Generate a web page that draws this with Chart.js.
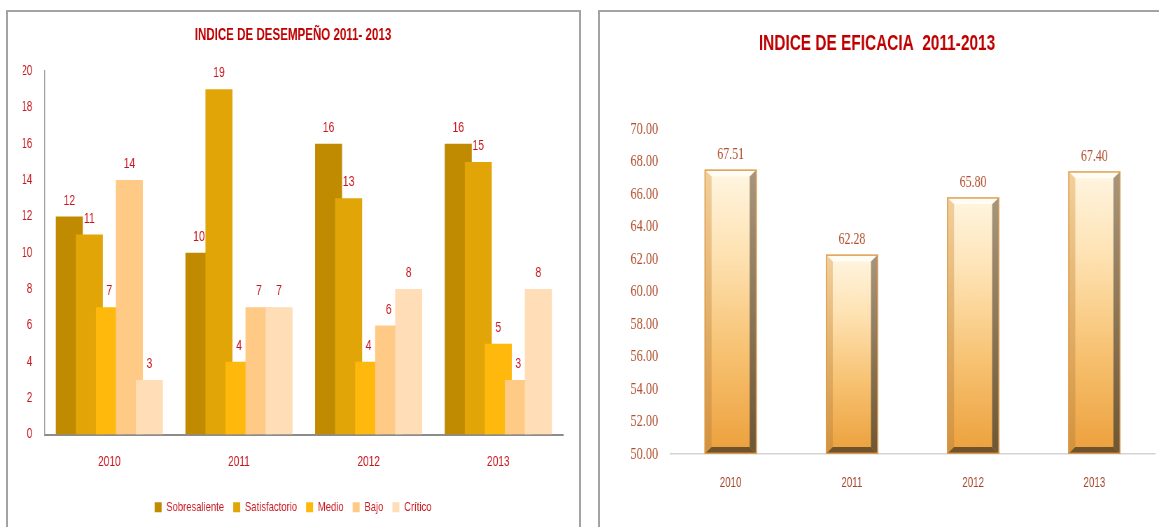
<!DOCTYPE html>
<html>
<head>
<meta charset="utf-8">
<script src="https://cdn.jsdelivr.net/npm/chart.js@4.4.1/dist/chart.umd.min.js"></script>
<style>
  html, body { margin:0; padding:0; background:#fff; width:1159px; height:527px; overflow:hidden; }
  .panel { position:absolute; border:2px solid #A3A3A3; box-sizing:border-box; }
  canvas { position:absolute; }
</style>
</head>
<body>
<div class="panel" style="left:6px; top:10px; width:575px; height:600px;"></div>
<div class="panel" style="left:598px; top:10px; width:600px; height:600px;"></div>
<canvas id="c1" style="left:7px; top:11px; width:572px; height:516px;"></canvas>
<canvas id="c2" style="left:599px; top:11px; width:560px; height:516px;"></canvas>
<script>
// ---------- data ----------
const categories = ['2010', '2011', '2012', '2013'];
const seriesNames = ['Sobresaliente', 'Satisfactorio', 'Medio', 'Bajo', 'Crítico'];
const sobresaliente = [12, 10, 16, 16];
const satisfactorio = [11, 19, 13, 15];
const medio = [7, 4, 4, 5];
const bajo = [14, 7, 6, 3];
const critico = [3, 7, 8, 8];
const desempenoTicks = [0, 2, 4, 6, 8, 10, 12, 14, 16, 18, 20];
const eficacia = [67.51, 62.28, 65.80, 67.40];
const eficaciaTicks = [50, 52, 54, 56, 58, 60, 62, 64, 66, 68, 70];
const title1 = 'INDICE DE DESEMPEÑO 2011- 2013';
const title2 = 'INDICE DE EFICACIA  2011-2013';

// ---------- styles ----------
const SX = 0.7; // the original picture is horizontally condensed
const SANS = "'Liberation Sans', Arial, sans-serif";
const SERIF = "'Liberation Serif', 'Times New Roman', serif";
const RED = '#C8161E';
const TITLE_RED = '#C00000';
const BROWN = '#B0502E';
const seriesColors = ['#C08B00', '#E1A508', '#FFB80C', '#FFCA86', '#FFDDB6'];

const c1 = document.getElementById('c1');
c1.width = Math.round(572 / SX); c1.height = 516;
const c2 = document.getElementById('c2');
c2.width = Math.round(560 / SX); c2.height = 516;

const pad1 = c1.width - (563 - 7) / SX;

// ---------- chart 1 ----------
const drawForward = {
  id: 'drawForward',
  beforeDatasetsDraw(chart) {
    const metas = chart.getSortedVisibleDatasetMetas();
    for (let i = 0; i < metas.length; i++) {
      chart._drawDataset(metas[i]);
    }
    return false;
  }
};
const barLabels1 = {
  id: 'barLabels1',
  afterDraw(chart) {
    const ctx = chart.ctx;
    ctx.save();
    ctx.font = '15px ' + SANS;
    ctx.fillStyle = RED;
    ctx.textAlign = 'center';
    ctx.textBaseline = 'middle';
    chart.data.datasets.forEach((ds, di) => {
      const meta = chart.getDatasetMeta(di);
      meta.data.forEach((el, i) => {
        ctx.fillText(String(ds.data[i]), el.x, el.y - 16);
      });
    });
    ctx.restore();
  }
};

const seriesData = [sobresaliente, satisfactorio, medio, bajo, critico];
new Chart(c1, {
  type: 'bar',
  data: {
    labels: categories,
    datasets: seriesNames.map((n, i) => ({
      label: n,
      data: seriesData[i],
      backgroundColor: seriesColors[i],
      borderWidth: 0,
      categoryPercentage: 0.772,
      barPercentage: 1.35
    }))
  },
  options: {
    responsive: false,
    animation: false,
    devicePixelRatio: 1,
    layout: { padding: { left: pad1, right: pad1, top: 0, bottom: 3 } },
    plugins: {
      title: {
        display: true, text: title1, color: TITLE_RED,
        font: { family: SANS, size: 16.5, weight: 'bold' },
        padding: { top: 14.1, bottom: 26.1 }
      },
      legend: {
        position: 'bottom',
        labels: {
          color: RED, font: { family: SANS, size: 13.5 },
          boxWidth: 10, boxHeight: 10, padding: 13
        }
      },
      tooltip: { enabled: false }
    },
    scales: {
      x: {
        grid: { display: false, drawTicks: false },
        border: { display: true, color: '#8C8C8C', width: 2 },
        ticks: { color: RED, font: { family: SANS, size: 14.5 }, padding: 18.5 },
        afterFit(s) { s.height = 53; }
      },
      y: {
        min: 0, max: 20,
        afterBuildTicks(s) { s.ticks = desempenoTicks.map(v => ({ value: v })); },
        grid: { display: false, drawTicks: false },
        border: { display: true, color: '#A0A0A0', width: 1.4 },
        ticks: { color: RED, font: { family: SANS, size: 14 }, padding: 17.5 },
        afterFit(s) { s.width = (44.5 - 7) / SX - pad1; }
      }
    }
  },
  plugins: [drawForward, barLabels1]
});

// ---------- chart 2 ----------
const bevelBars = {
  id: 'bevelBars',
  afterDatasetsDraw(chart) {
    const ctx = chart.ctx;
    const meta = chart.getDatasetMeta(0);
    const area = chart.chartArea;
    ctx.save();
    meta.data.forEach((el) => {
      const p = el.getProps(['x', 'y', 'base', 'width'], true);
      const l = p.x - p.width / 2, r = p.x + p.width / 2, t = p.y, w = p.width;
      const b = Math.min(p.base, area.bottom);
      const bx = 10, by = 7;
      let g = ctx.createLinearGradient(0, t, 0, b);
      g.addColorStop(0, '#FFF6E2');
      g.addColorStop(0.3, '#FEE2B2');
      g.addColorStop(0.65, '#F7C170');
      g.addColorStop(1, '#ECA03C');
      ctx.fillStyle = g;
      ctx.fillRect(l, t, w, b - t);
      // top bevel
      ctx.fillStyle = '#FFFCF4';
      ctx.beginPath(); ctx.moveTo(l, t); ctx.lineTo(r, t); ctx.lineTo(r - bx, t + by); ctx.lineTo(l + bx, t + by); ctx.closePath(); ctx.fill();
      // left bevel
      g = ctx.createLinearGradient(0, t, 0, b);
      g.addColorStop(0, '#F2D09C'); g.addColorStop(1, '#D3923C');
      ctx.fillStyle = g;
      ctx.beginPath(); ctx.moveTo(l, t); ctx.lineTo(l + bx, t + by); ctx.lineTo(l + bx, b - by); ctx.lineTo(l, b); ctx.closePath(); ctx.fill();
      // right bevel
      g = ctx.createLinearGradient(0, t, 0, b);
      g.addColorStop(0, '#A8967C'); g.addColorStop(1, '#6E5634');
      ctx.fillStyle = g;
      ctx.beginPath(); ctx.moveTo(r, t); ctx.lineTo(r, b); ctx.lineTo(r - bx, b - by); ctx.lineTo(r - bx, t + by); ctx.closePath(); ctx.fill();
      // bottom bevel
      ctx.fillStyle = '#6F532C';
      ctx.beginPath(); ctx.moveTo(l, b); ctx.lineTo(r, b); ctx.lineTo(r - bx, b - by); ctx.lineTo(l + bx, b - by); ctx.closePath(); ctx.fill();
      // outline
      ctx.strokeStyle = '#DC9A4C';
      ctx.lineWidth = 1.4;
      ctx.strokeRect(l + 0.7, t + 0.7, w - 1.4, b - t - 1.4);
    });
    // value labels
    ctx.font = '17px ' + SERIF;
    ctx.fillStyle = BROWN;
    ctx.textAlign = 'center';
    ctx.textBaseline = 'middle';
    meta.data.forEach((el, i) => {
      ctx.fillText(eficacia[i].toFixed(2), el.x, el.y - 15);
    });
    ctx.restore();
  }
};

new Chart(c2, {
  type: 'bar',
  data: {
    labels: categories,
    datasets: [{
      label: 'Eficacia',
      data: eficacia,
      backgroundColor: '#F5C27A',
      borderWidth: 0,
      categoryPercentage: 1,
      barPercentage: 0.43
    }]
  },
  options: {
    responsive: false,
    animation: false,
    devicePixelRatio: 1,
    layout: { padding: { left: 0, right: c2.width - (1155 - 599) / SX, top: 0, bottom: 0 } },
    plugins: {
      title: {
        display: true, text: title2, color: TITLE_RED,
        font: { family: SANS, size: 22, weight: 'bold' },
        padding: { top: 19.8, bottom: 71.8 }
      },
      legend: { display: false },
      tooltip: { enabled: false }
    },
    scales: {
      x: {
        grid: { display: false, drawTicks: false },
        border: { display: true, color: '#D4D4D4', width: 1.5 },
        ticks: { color: '#A4442A', font: { family: SANS, size: 14 }, padding: 21 },
        afterFit(s) { s.height = 73; }
      },
      y: {
        min: 50, max: 70,
        afterBuildTicks(s) { s.ticks = eficaciaTicks.map(v => ({ value: v })); },
        grid: { display: false, drawTicks: false },
        border: { display: false },
        ticks: { color: BROWN, font: { family: SERIF, size: 17.5 }, padding: 17,
                 callback: (v) => Number(v).toFixed(2) },
        afterFit(s) { s.width = (670 - 599) / SX; }
      }
    }
  },
  plugins: [bevelBars]
});
</script>
</body>
</html>
